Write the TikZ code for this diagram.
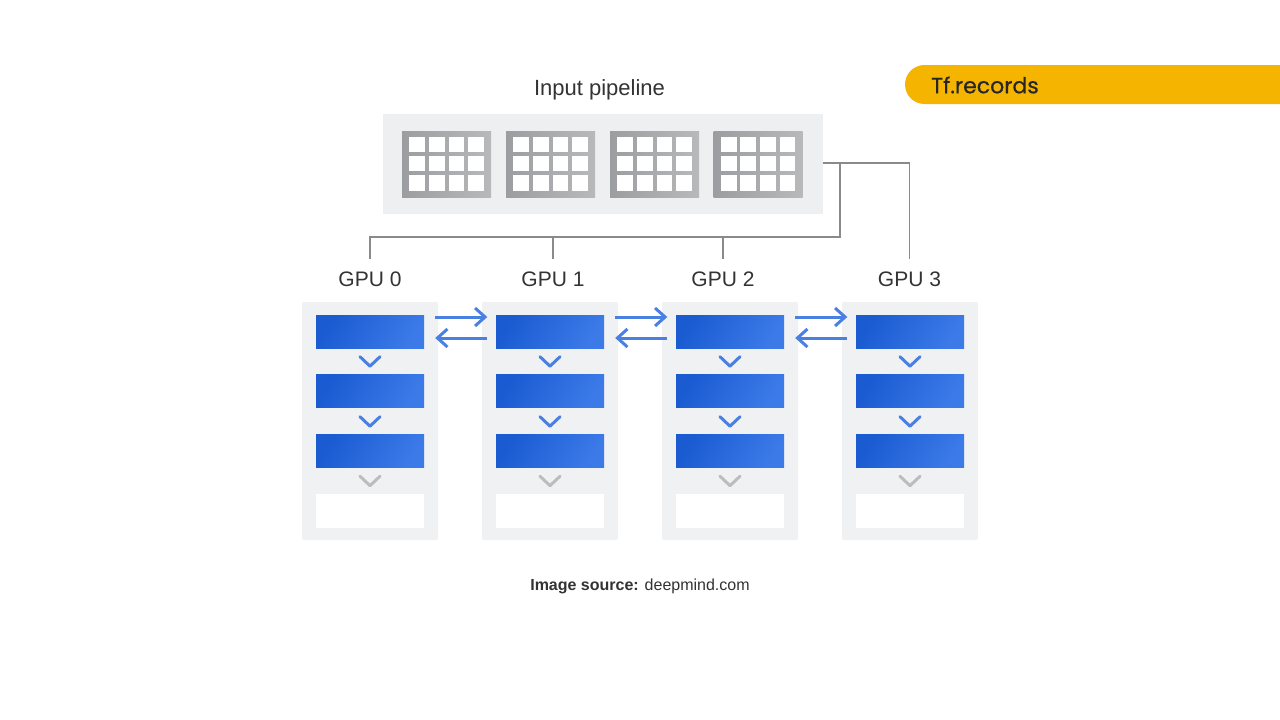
\documentclass[tikz,border=0pt]{standalone}
\usepackage{fontspec}
\setmainfont{Liberation Sans}
\newfontfamily\popfont{Poppins}[UprightFeatures={FakeBold=0.5}]
\usetikzlibrary{arrows.meta,calc}
\definecolor{txt}{HTML}{333333}
\definecolor{panel}{HTML}{F0F1F3}
\definecolor{pipebg}{HTML}{EEEFF1}
\definecolor{tree}{HTML}{8A8A8A}
\definecolor{bluedark}{HTML}{1A5BD2}
\definecolor{bluelight}{HTML}{3C7AE8}
\definecolor{arrowblue}{HTML}{4A80E2}
\definecolor{chevgray}{HTML}{BDBDBD}
\definecolor{banner}{HTML}{F4B400}
\definecolor{tiledark}{HTML}{9C9DA0}
\definecolor{tilelight}{HTML}{B8B9BB}
\tikzset{
  lbl/.style={font=\fontsize{21}{24}\selectfont, text=txt, inner sep=0pt},
  panelbox/.style={fill=panel, draw=none, rounded corners=2pt, minimum width=136pt, minimum height=238pt, inner sep=0pt},
  bar/.style={left color=bluedark, right color=bluelight, shading angle=60, draw=none, minimum width=108pt, minimum height=33pt, inner sep=0pt},
  emptybar/.style={fill=white, draw=none, minimum width=108pt, minimum height=34pt, inner sep=0pt},
  chev/.style={line width=3pt, draw=arrowblue, line cap=round, line join=round},
  chevg/.style={line width=3pt, draw=chevgray, line cap=round, line join=round},
  xfer/.style={line width=3pt, draw=arrowblue, -{Straight Barb[length=10pt,width=18pt,line width=3pt]}},
  treeline/.style={line width=1.5pt, draw=tree},
  tile/.style={left color=tiledark, right color=tilelight, draw=none, minimum width=89pt, minimum height=66pt, inner sep=0pt},
}
\begin{document}
\begin{tikzpicture}[x=1pt,y=-1pt]
\useasboundingbox (0,0) rectangle (1280,720);
\fill[white] (0,0) rectangle (1280,720);

% banner
\fill[banner] (1280,104) [rounded corners=19.5pt] -- (905,104) -- (905,65) [sharp corners] -- (1280,65) -- cycle;
\node[anchor=west, inner sep=0pt, text=black!85, font=\popfont\fontsize{22}{26}\selectfont] (bannertext) at (931,85) {Tf.records};

% input pipeline
\node[lbl, font=\fontsize{22}{26}\selectfont] (pipelbl) at (599.5,89.5) {Input pipeline};
\node[fill=pipebg, minimum width=440pt, minimum height=100pt, inner sep=0pt] (pipe) at (602.5,164) {};
\foreach \i/\x in {0/446.5,1/550.5,2/654.5,3/758} {
  \node[tile] (tile\i) at (\x,164) {};
  \foreach \c in {0,1,2,3} {
    \foreach \r in {0,1,2} {
      \fill[white] ($(tile\i.north west)+(7.5+\c*19.6,5.7+\r*19.3)$) rectangle ++(15.8,15.6);
    }
  }
}

% tree connectors
\coordinate (j) at (840,163);
\coordinate (h) at (840,237);
\foreach \i/\x in {0/370,1/553,2/723,3/909.5} {
  \coordinate (t\i) at (\x,259);
}
\draw[treeline] (pipe.east |- j) -| (t3);
\draw[treeline] (j) -- (h) -| (t0);
\draw[treeline] (t1 |- h) -- (t1);
\draw[treeline] (t2 |- h) -- (t2);

% GPU columns
\foreach \i/\x in {0/370,1/550,2/730,3/910} {
  \node[panelbox] (p\i) at (\x,421) {};
  \node[bar] (b\i0) at (\x,331.5) {};
  \node[bar] (b\i1) at (\x,391) {};
  \node[bar] (b\i2) at (\x,451) {};
  \node[emptybar] (b\i3) at (\x,511) {};
  \draw[chev] ($(b\i0.south)+(-10,8.5)$) -- ($(b\i0.south)+(0,18)$) -- ($(b\i0.south)+(10,8.5)$);
  \draw[chev] ($(b\i1.south)+(-10,9)$) -- ($(b\i1.south)+(0,18.5)$) -- ($(b\i1.south)+(10,9)$);
  \draw[chevg] ($(b\i2.south)+(-10,8.5)$) -- ($(b\i2.south)+(0,18)$) -- ($(b\i2.south)+(10,8.5)$);
}
\node[lbl] (g0) at (370,279) {GPU 0};
\node[lbl] (g1) at (553,279) {GPU 1};
\node[lbl] (g2) at (723,279) {GPU 2};
\node[lbl] (g3) at (909.5,279) {GPU 3};

% transfers
\foreach \a/\b in {0/1,1/2,2/3} {
  \draw[xfer, shorten <=11pt, shorten >=8.5pt] ([yshift=14.5pt]b\a0.east) -- ([yshift=14.5pt]b\b0.west);
  \draw[xfer, shorten <=8.5pt, shorten >=11pt] ([yshift=-6.5pt]b\b0.west) -- ([yshift=-6.5pt]b\a0.east);
}

% source
\node[inner sep=0pt, text=txt, font=\fontsize{16}{19}\selectfont] (src) at (640,586.5) {\textbf{Image source:} deepmind.com};
\end{tikzpicture}
\end{document}
